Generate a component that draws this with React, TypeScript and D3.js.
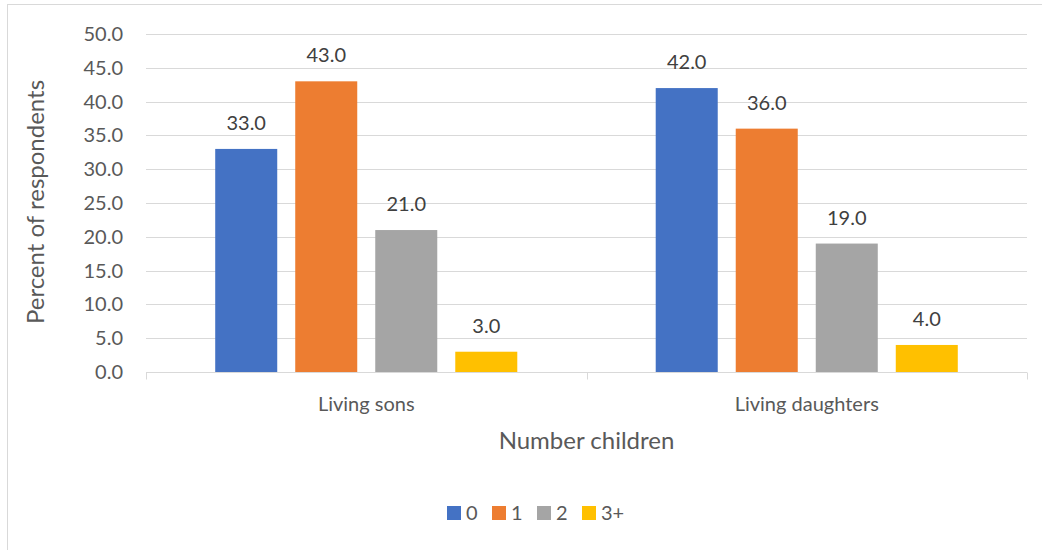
import { useEffect, useRef } from 'react'
import * as d3 from 'd3'

const categories = ['Living sons', 'Living daughters']
const seriesNames = ['0', '1', '2', '3+']
const seriesColors = ['#4472c4', '#ed7d31', '#a5a5a5', '#ffc000']
const sonsValues = [33.0, 43.0, 21.0, 3.0]
const daughtersValues = [42.0, 36.0, 19.0, 4.0]
const yTicks = [0, 5, 10, 15, 20, 25, 30, 35, 40, 45, 50]

const values = [sonsValues, daughtersValues]

export default function App() {
  const svgRef = useRef<SVGSVGElement>(null)

  useEffect(() => {
    if (!svgRef.current) return
    const svg = d3.select(svgRef.current)
    svg.selectAll('*').remove()

    const width = 1042
    const height = 550
    const margin = { top: 34, right: 15, bottom: 178, left: 146 }
    const font = "Lato, 'Open Sans', sans-serif"
    const textColor = '#595959'
    const fs = 20

    // chart border
    svg.append('rect')
      .attr('x', 7.5).attr('y', 4.5)
      .attr('width', 1040).attr('height', 550)
      .attr('fill', '#fff')
      .attr('stroke', '#d9d9d9')

    const x0 = d3.scaleBand()
      .domain(categories)
      .range([margin.left, width - margin.right])

    const x1 = d3.scaleBand()
      .domain(seriesNames)
      .range([0, x0.bandwidth()])
      .paddingInner(0.225)
      .paddingOuter(0.865)

    const y = d3.scaleLinear()
      .domain([0, 50])
      .range([height - margin.bottom, margin.top])

    // gridlines
    svg.append('g')
      .selectAll('line')
      .data(yTicks.filter(t => t > 0))
      .join('line')
      .attr('x1', margin.left)
      .attr('x2', width - margin.right)
      .attr('y1', d => Math.round(y(d)) + 0.5)
      .attr('y2', d => Math.round(y(d)) + 0.5)
      .attr('stroke', '#d9d9d9')
      .attr('stroke-width', 1)

    // y tick labels
    svg.append('g')
      .selectAll('text')
      .data(yTicks)
      .join('text')
      .attr('x', 123)
      .attr('y', d => y(d) + 7)
      .attr('text-anchor', 'end')
      .attr('font-family', font)
      .attr('font-size', fs)
      .attr('fill', textColor)
      .text(d => d.toFixed(1))

    // bars
    const groups = svg.append('g')
      .selectAll('g')
      .data(categories)
      .join('g')
      .attr('transform', d => `translate(${x0(d)},0)`)

    groups.selectAll('rect')
      .data((_, i) => values[i].map((v, j) => ({ key: seriesNames[j], v, j })))
      .join('rect')
      .attr('x', d => x1(d.key)!)
      .attr('y', d => y(d.v))
      .attr('width', x1.bandwidth())
      .attr('height', d => y(0) - y(d.v))
      .attr('fill', d => seriesColors[d.j])

    groups.selectAll('text')
      .data((_, i) => values[i].map((v, j) => ({ key: seriesNames[j], v, j })))
      .join('text')
      .attr('x', d => x1(d.key)! + x1.bandwidth() / 2)
      .attr('y', d => y(d.v) - 19)
      .attr('text-anchor', 'middle')
      .attr('font-family', font)
      .attr('font-size', fs)
      .attr('fill', '#404040')
      .text(d => d.v.toFixed(1))

    // x axis line and ticks
    const y0 = Math.round(y(0)) + 0.5
    svg.append('line')
      .attr('x1', margin.left).attr('x2', width - margin.right)
      .attr('y1', y0).attr('y2', y0)
      .attr('stroke', '#d9d9d9')
    const tickXs = [...categories.map(c => x0(c)!), width - margin.right]
    svg.append('g')
      .selectAll('line')
      .data(tickXs)
      .join('line')
      .attr('x1', d => Math.round(d) + 0.5)
      .attr('x2', d => Math.round(d) + 0.5)
      .attr('y1', y0).attr('y2', y0 + 7)
      .attr('stroke', '#d9d9d9')

    // category labels
    svg.append('g')
      .selectAll('text')
      .data(categories)
      .join('text')
      .attr('x', d => x0(d)! + x0.bandwidth() / 2)
      .attr('y', 411)
      .attr('text-anchor', 'middle')
      .attr('font-family', font)
      .attr('font-size', fs)
      .attr('fill', textColor)
      .text(d => d)

    // axis titles
    svg.append('text')
      .attr('x', (margin.left + width - margin.right) / 2)
      .attr('y', 449)
      .attr('text-anchor', 'middle')
      .attr('font-family', font)
      .attr('font-size', 24)
      .attr('fill', textColor)
      .text('Number children')

    svg.append('text')
      .attr('transform', 'translate(44,202) rotate(-90)')
      .attr('text-anchor', 'middle')
      .attr('font-family', font)
      .attr('font-size', 24)
      .attr('fill', textColor)
      .text('Percent of respondents')

    // legend
    const legendX = [447, 492, 537, 582]
    const legend = svg.append('g')
      .selectAll('g')
      .data(seriesNames)
      .join('g')
      .attr('transform', (_, i) => `translate(${legendX[i]},506)`)
    legend.append('rect')
      .attr('width', 14).attr('height', 14)
      .attr('fill', (_, i) => seriesColors[i])
    legend.append('text')
      .attr('x', 19)
      .attr('y', 14)
      .attr('font-family', font)
      .attr('font-size', fs)
      .attr('fill', textColor)
      .text(d => d)
  }, [])

  return (
    <svg
      ref={svgRef}
      width={1042}
      height={550}
      style={{ position: 'absolute', left: 0, top: 0, background: '#fff' }}
    />
  )
}
